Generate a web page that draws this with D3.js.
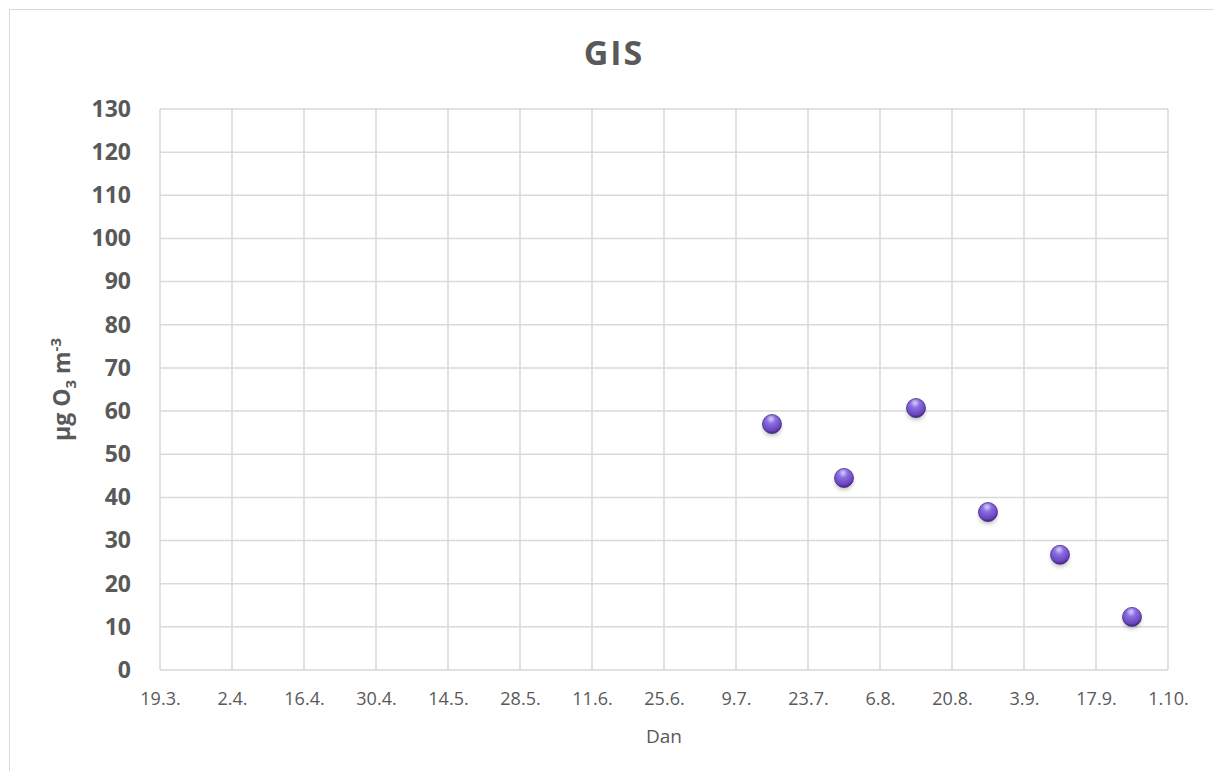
<!DOCTYPE html>
<html><head><meta charset="utf-8">
<script src="https://cdn.jsdelivr.net/npm/d3@7"></script>
<style>body{margin:0;background:#fff}svg{display:block}</style>
</head><body>
<svg id="c" width="1214" height="771"></svg>
<script>
const tickDates = ["2019-03-19","2019-04-02","2019-04-16","2019-04-30","2019-05-14","2019-05-28","2019-06-11","2019-06-25","2019-07-09","2019-07-23","2019-08-06","2019-08-20","2019-09-03","2019-09-17","2019-10-01"];
const pointDates = ["2019-07-16","2019-07-30","2019-08-13","2019-08-27","2019-09-10","2019-09-24"];
const ozone = [57.0, 44.5, 60.7, 36.6, 26.7, 12.3];
const yTicks = [0,10,20,30,40,50,60,70,80,90,100,110,120,130];

const parse = d3.utcParse("%Y-%m-%d");
const fmt = d3.utcFormat("%-d.%-m.");
const svg = d3.select("#c");
const font = "'Open Sans', 'Noto Sans', sans-serif";
const grey = "#595959";

svg.append("rect").attr("x",9.5).attr("y",9.5).attr("width",1220).attr("height",780)
  .attr("fill","#fff").attr("stroke","#d9d9d9").attr("stroke-width",1);

const L=160, R=1168, T=109, B=670;
const x = d3.scaleUtc().domain([parse(tickDates[0]), parse(tickDates[tickDates.length-1])]).range([L,R]);
const y = d3.scaleLinear().domain([0,130]).range([B,T]);

// gridlines
const g = svg.append("g");
g.selectAll(".hg").data(yTicks).join("line")
  .attr("x1",L).attr("x2",R).attr("y1",d=>y(d)).attr("y2",d=>y(d))
  .attr("stroke","#d9d9d9").attr("stroke-width",1.5);
g.selectAll(".vg").data(tickDates).join("line")
  .attr("y1",T).attr("y2",B).attr("x1",d=>x(parse(d))).attr("x2",d=>x(parse(d)))
  .attr("stroke","#d9d9d9").attr("stroke-width",1.5);

// axes
const yAxis = d3.axisLeft(y).tickValues(yTicks).tickSize(0).tickPadding(29);
const ya = svg.append("g").attr("transform",`translate(${L},0)`).call(yAxis);
ya.select(".domain").remove();
ya.selectAll("text").attr("font-family",font).attr("font-weight","bold").attr("font-size",23).attr("fill",grey);

const xAxis = d3.axisBottom(x).tickValues(tickDates.map(parse)).tickFormat(fmt).tickSize(0).tickPadding(22);
const xa = svg.append("g").attr("transform",`translate(0,${B})`).call(xAxis);
xa.select(".domain").remove();
xa.selectAll("text").attr("font-family",font).attr("font-size",18).attr("fill",grey);

// titles
svg.append("text").attr("x",614).attr("y",65).attr("text-anchor","middle")
  .attr("font-family",font).attr("font-weight","bold").attr("font-size",34).attr("letter-spacing",2).attr("fill",grey).text("GIS");
svg.append("text").attr("x",664).attr("y",743).attr("text-anchor","middle")
  .attr("font-family",font).attr("font-size",19).attr("fill",grey).text("Dan");
const yt = svg.append("text").attr("transform",`translate(70,${(T+B)/2}) rotate(-90)`).attr("text-anchor","middle")
  .attr("font-family",font).attr("font-weight","bold").attr("font-size",23).attr("fill",grey);
yt.append("tspan").text("µg O");
yt.append("tspan").attr("font-size",15).attr("dy",6).text("3");
yt.append("tspan").attr("dy",-6).text(" m");
yt.append("tspan").attr("font-size",15).attr("dy",-9).text("-3");

// marker defs
const defs = svg.append("defs");
const rg = defs.append("radialGradient").attr("id","sph").attr("cx","45%").attr("cy","30%").attr("r","70%").attr("fx","45%").attr("fy","22%");
rg.append("stop").attr("offset","0%").attr("stop-color","#d9d0ff");
rg.append("stop").attr("offset","35%").attr("stop-color","#8a6ee0");
rg.append("stop").attr("offset","80%").attr("stop-color","#6a46c0");
rg.append("stop").attr("offset","100%").attr("stop-color","#3e2478");
const f = defs.append("filter").attr("id","sh").attr("x","-50%").attr("y","-50%").attr("width","200%").attr("height","200%");
f.append("feGaussianBlur").attr("stdDeviation",2.2);

const pts = pointDates.map((d,i)=>({d:parse(d), v:ozone[i]}));
svg.selectAll(".shadow").data(pts).join("ellipse")
  .attr("cx",d=>x(d.d)).attr("cy",d=>y(d.v)+4).attr("rx",9).attr("ry",8)
  .attr("fill","rgba(0,0,0,0.25)").attr("filter","url(#sh)");
svg.selectAll(".pt").data(pts).join("circle")
  .attr("cx",d=>x(d.d)).attr("cy",d=>y(d.v)).attr("r",9.5)
  .attr("fill","url(#sph)").attr("stroke","#4a2c8a").attr("stroke-width",0.8);
</script>
</body></html>
